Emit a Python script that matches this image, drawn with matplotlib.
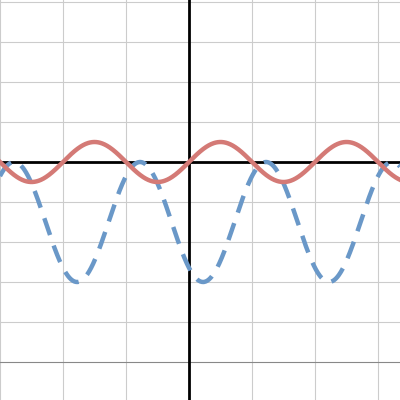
import numpy as np
import matplotlib.pyplot as plt

# view window (radians on x)
x_min, x_max = -1.5 * np.pi, 5.26
y_min, y_max = -5.95, 4.05

# curve parameters
red_amp, red_freq = 0.5, 2.0
blue_mid, blue_amp, blue_freq, blue_shift = -1.5, 1.5, 2.0, 0.35

x = np.linspace(x_min, x_max, 800)
red = red_amp * np.sin(red_freq * x)
blue = blue_mid - blue_amp * np.cos(blue_freq * (x - blue_shift))

fig = plt.figure(figsize=(4, 4), dpi=100)
ax = fig.add_axes([0, 0, 1, 1])
ax.set_xlim(x_min, x_max)
ax.set_ylim(y_min, y_max)

for gx in np.arange(-3, 4) * np.pi / 2:
    ax.axvline(gx, color='#cccccc', lw=0.8, zorder=0)
for gy in range(-5, 5):
    ax.axhline(gy, color='#888888' if gy == -5 else '#cccccc', lw=0.8, zorder=0)
ax.axhline(0, color='black', lw=2, zorder=1)
ax.axvline(0, color='black', lw=2, zorder=1)

ax.plot(x, blue, color='#6a98c8', lw=3.2, dashes=(4, 2.5), zorder=2)
ax.plot(x, red, color='#d47a76', lw=3.2, zorder=3)

ax.set_xticks([])
ax.set_yticks([])
for s in ax.spines.values():
    s.set_visible(False)
fig.savefig('out.png', dpi=100)
